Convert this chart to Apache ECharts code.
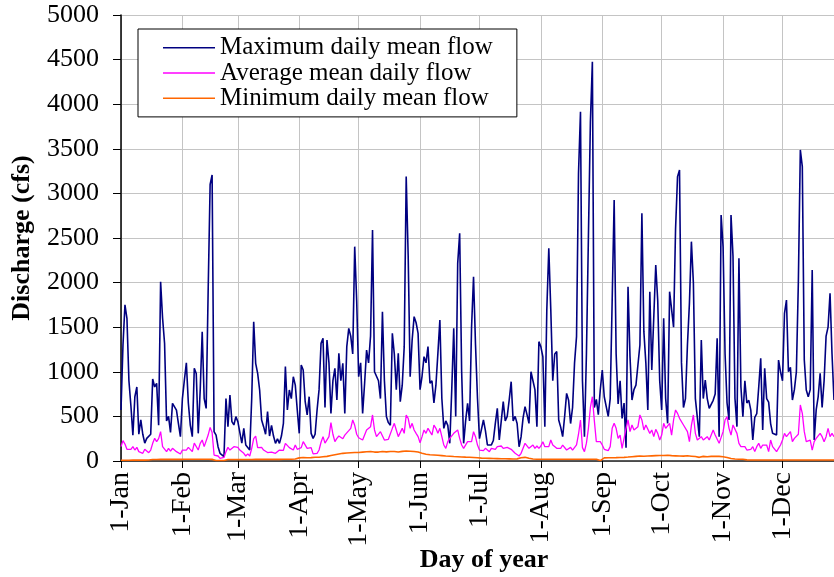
<!DOCTYPE html>
<html>
<head>
<meta charset="utf-8">
<script src="https://cdn.jsdelivr.net/npm/echarts@6/dist/echarts.min.js"></script>
<style>html,body{margin:0;padding:0;background:#fff}#c{width:834px;height:577px}</style>
</head>
<body>
<div id="c"></div>
<script>
// Month names and lengths used to build the day-of-year categories
var monthNames = ['Jan','Feb','Mar','Apr','May','Jun','Jul','Aug','Sep','Oct','Nov','Dec'];
var monthLengths = [31,28,31,30,31,30,31,31,30,31,30,31];
var visibleDays = 361;

var seriesNames = ['Maximum daily mean flow','Average mean daily flow','Minimum daily mean flow'];

var maxFlow = [
572,1300,1750,1600,900,620,290,720,830,300,
460,300,200,254,240,300,920,830,870,400,
2010,1600,1320,450,500,320,646,640,570,420,
273,700,908,1100,650,400,273,1039,980,310,
800,1450,700,590,1900,3100,3206,330,290,160,
86,67,50,700,385,740,441,404,497,441,
460,200,366,180,160,123,700,1562,1095,983,
796,460,385,300,553,280,400,280,198,250,
198,280,422,1058,572,796,700,945,850,572,
310,1076,1020,665,516,721,310,254,300,572,
800,1319,1375,600,1356,1100,534,900,1039,684,
1207,900,1095,534,1282,1487,1400,1200,2403,1800,
945,1100,534,871,1244,1100,1400,2590,1000,1000,
900,700,1674,900,500,430,400,1431,1200,800,
1207,665,850,1282,3188,2300,945,1356,1618,1550,
1431,800,950,1170,1100,1282,871,900,650,850,
1207,1581,700,366,450,400,198,800,1487,500,
2216,2552,1000,198,450,646,450,1500,2066,1300,
700,250,260,460,340,180,160,180,230,422,
590,235,450,665,450,500,684,889,450,500,
420,160,270,480,609,520,422,1001,900,800,
385,1338,1280,1170,385,1700,2384,1700,900,1200,
1226,460,380,273,500,758,680,420,600,1100,
1394,3225,3916,900,273,1200,2515,3800,4477,600,
690,520,800,1020,720,610,500,700,1800,2926,
1200,640,900,478,650,150,1954,1170,684,800,
850,1076,1300,2777,1450,1100,572,1898,1020,1000,
2197,1800,900,572,1600,700,422,1898,1900,1500,
2600,3188,3262,1100,600,700,1300,1767,2459,2000,
700,700,273,1356,700,908,700,590,610,680,
750,1375,273,2758,2400,1200,650,460,2758,2300,
700,385,2272,833,497,900,650,680,570,235,
490,530,830,1151,348,1039,700,660,420,310,
330,291,1132,1000,900,1656,1805,1000,1050,684,
800,1000,2000,3487,3300,1132,796,720,800,2141,
235,572,720,983,600,900,1400,1500,1880,1200,684
];

var avgFlow = [
161,228,190,131,153,131,161,123,153,105,
123,86,131,153,93,123,198,254,217,250,
330,161,142,105,142,110,142,123,105,100,
78,123,142,123,153,131,105,200,180,123,
198,235,161,142,291,377,320,67,50,56,
30,40,40,105,153,123,131,161,168,153,
123,123,86,56,80,56,142,250,280,150,
161,153,123,110,95,105,100,105,86,105,
123,105,120,198,200,150,161,123,180,131,
110,150,217,198,142,123,150,80,67,86,
123,210,273,200,198,273,430,300,217,254,
280,291,250,290,300,340,366,460,400,300,
260,273,235,254,348,340,385,516,348,273,
254,329,348,235,217,243,250,366,422,348,
273,254,366,310,516,478,366,422,348,310,
273,205,273,348,310,366,329,291,403,366,
310,366,273,179,142,217,254,235,310,329,
348,254,179,142,161,217,198,217,329,273,
179,123,105,116,142,123,105,142,123,131,
161,142,168,142,123,153,161,131,123,86,
105,56,86,142,198,179,142,161,179,142,
168,142,168,217,161,179,161,235,179,161,
142,161,142,179,161,123,123,153,123,142,
180,300,460,150,105,200,366,600,721,450,
217,198,217,179,131,123,116,161,366,422,
366,254,291,142,123,366,460,329,404,348,
329,385,516,460,348,404,385,310,348,273,
355,310,235,291,422,366,348,422,291,460,
572,534,478,497,404,404,329,217,400,516,
310,235,217,273,235,235,273,235,217,348,
291,273,198,179,329,460,497,366,291,404,
422,310,198,161,179,161,123,105,131,161,
105,161,198,142,179,161,179,105,235,161,
142,105,105,179,235,310,273,291,329,217,
254,235,300,628,534,329,217,198,235,123,
217,254,235,310,273,217,273,366,273,310,273
];

var minFlow = [
8,8,9,9,9,10,10,10,10,10,
10,10,10,11,11,16,17,17,17,18,
18,18,18,18,18,18,18,18,18,18,
18,18,19,19,19,19,19,19,19,19,
19,19,19,19,19,19,18,8,6,6,
6,6,6,14,16,16,16,16,16,16,
17,17,17,17,17,17,17,18,18,18,
18,18,18,18,18,18,18,18,18,18,
18,19,19,19,19,20,20,21,22,24,
35,38,40,38,36,35,38,40,42,40,
42,45,48,50,52,55,62,66,70,74,
78,82,86,88,90,92,93,95,96,96,
96,98,100,102,104,105,106,104,100,98,
100,104,106,104,102,100,106,110,106,102,
100,104,108,110,112,112,110,108,106,104,
100,92,86,80,76,72,70,68,67,66,
64,62,60,58,56,55,54,52,50,49,
48,46,45,44,43,42,42,41,40,38,
36,34,32,30,30,30,29,28,28,28,
27,26,26,25,25,24,24,24,23,23,
24,30,36,40,41,40,30,22,22,20,
19,19,19,19,19,19,19,19,19,19,
19,19,19,19,19,19,19,19,19,19,
19,19,19,19,19,19,19,19,19,19,
19,12,5,18,35,37,37,37,37,38,
38,38,40,41,41,42,44,46,48,50,
52,56,56,55,54,55,56,58,58,60,
60,62,62,64,62,64,64,62,60,60,
58,56,56,55,55,56,58,56,54,52,
50,44,41,48,52,50,48,50,52,50,
52,54,52,49,48,45,40,32,28,25,
22,20,20,19,19,16,13,11,11,11,
11,11,11,11,11,11,11,11,11,11,
12,12,12,12,12,12,12,12,12,12,
12,12,12,12,12,12,12,12,12,12,
12,12,12,12,12,12,12,12,12,12,12
];

// Build day categories like "1-Jan"
var categories = [];
var monthStarts = {};
for (var m = 0; m < 12; m++) {
  for (var d = 1; d <= monthLengths[m]; d++) {
    if (d === 1) monthStarts[categories.length] = true;
    categories.push(d + '-' + monthNames[m]);
  }
}
categories = categories.slice(0, visibleDays);
function isMonthStart(i) { return !!monthStarts[i]; }

var serif = '"Liberation Serif", "Times New Roman", serif';
var chart = echarts.init(document.getElementById('c'), null, {renderer: 'canvas'});
chart.setOption({
  animation: false,
  backgroundColor: '#fff',
  color: ['#000080', '#FF00FF', '#FF6600'],
  grid: {left: 121, right: 0, top: 15, bottom: 116, containLabel: false, outerBoundsMode: 'none'},
  legend: {
    orient: 'vertical', left: 138, top: 29,
    padding: [6, 24, 6, 25],
    itemGap: 0, itemWidth: 52, itemHeight: 1.5, icon: 'rect',
    backgroundColor: '#fff', borderColor: '#000', borderWidth: 1,
    textStyle: {fontFamily: serif, fontSize: 25, color: '#000', lineHeight: 25.3},
    data: seriesNames
  },
  xAxis: {
    type: 'category', data: categories, boundaryGap: false,
    axisLine: {show: true, lineStyle: {color: '#222', width: 1.5}},
    axisTick: {show: true, interval: isMonthStart, length: 7, lineStyle: {color: '#000', width: 1}},
    axisLabel: {interval: isMonthStart, rotate: 90, margin: 11, fontFamily: serif, fontSize: 28, color: '#000'},
    splitLine: {show: true, interval: isMonthStart, lineStyle: {color: '#c4c4c4', width: 1}},
    name: 'Day of year', nameLocation: 'middle', nameGap: 86, nameMoveOverlap: false,
    nameTextStyle: {fontFamily: serif, fontSize: 26, fontWeight: 'bold', color: '#000', padding: [0, 0, 0, 13]}
  },
  yAxis: {
    type: 'value', min: 0, max: 5000, interval: 500,
    axisLine: {show: true, lineStyle: {color: '#000', width: 1.5}},
    axisTick: {show: true, length: 8, lineStyle: {color: '#000', width: 1}},
    axisLabel: {margin: 22, fontFamily: serif, fontSize: 26, color: '#000',
                formatter: function (v) { return String(v); }},
    splitLine: {show: true, lineStyle: {color: '#c4c4c4', width: 1}},
    name: 'Discharge (cfs)', nameLocation: 'middle', nameGap: 86, nameMoveOverlap: false,
    nameTextStyle: {fontFamily: serif, fontSize: 26, fontWeight: 'bold', color: '#000'}
  },
  series: [
    {name: seriesNames[0], type: 'line', data: maxFlow, showSymbol: false, symbol: 'none',
     lineStyle: {width: 1.6, color: '#000080'}, itemStyle: {color: '#000080'}},
    {name: seriesNames[1], type: 'line', data: avgFlow, showSymbol: false, symbol: 'none',
     lineStyle: {width: 1.3, color: '#FF00FF'}, itemStyle: {color: '#FF00FF'}},
    {name: seriesNames[2], type: 'line', data: minFlow, showSymbol: false, symbol: 'none',
     lineStyle: {width: 1.6, color: '#FF6600'}, itemStyle: {color: '#FF6600'}}
  ]
});
</script>
</body>
</html>
